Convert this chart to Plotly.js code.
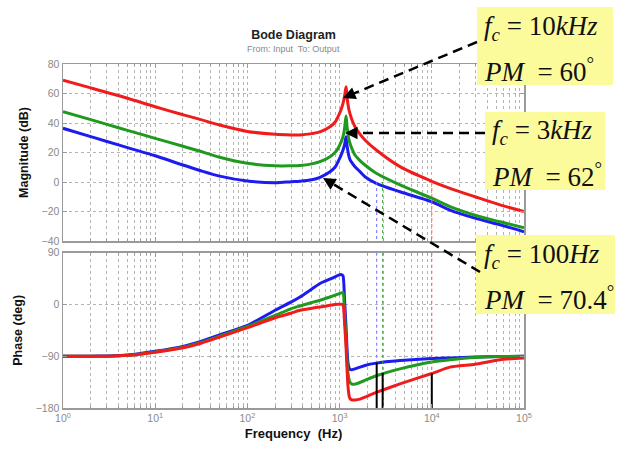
<!DOCTYPE html>
<html>
<head>
<meta charset="utf-8">
<script src="https://cdn.plot.ly/plotly-3.0.1.min.js"></script>
<style>
  html, body { margin: 0; padding: 0; background: #fff; }
  #chart { width: 630px; height: 457px; }
</style>
</head>
<body>
<div id="chart"></div>
<script>
// ---- data ----
const freq = [1, 2, 3, 5, 10, 20, 30, 50, 100, 200, 300, 372, 500, 613, 787, 891, 962, 1036, 1089, 1130, 1175, 1202, 1230, 1265, 1300, 1363, 1468, 1663, 1884, 2500, 4520, 10000, 15750, 29400, 55000, 100000];

const magRed   = [69, 63.8, 60.7, 56.8, 51, 45.6, 42.6, 38.6, 34.3, 32.3, 31.9, 31.9, 32.8, 34, 37.5, 40.5, 44.3, 49, 53.3, 58, 64.5, 58, 53, 48.8, 46, 42, 37.5, 32.5, 28.5, 21.7, 10.4, 0.5, -4.3, -10, -15.5, -20];
const magGreen = [47.7, 42.3, 39.1, 35, 29.6, 24.2, 21, 16.8, 12.7, 11, 11, 11.2, 12.3, 13.8, 17.2, 20, 22.8, 27, 30.7, 36, 44.7, 38, 33, 28.5, 26, 22.5, 18.3, 14.5, 11.5, 5.9, -2, -11, -16.7, -22.5, -27, -31];
const magBlue  = [36.4, 30.8, 27.5, 23.3, 17.8, 11.5, 8, 4, 0.7, -0.5, 0.2, 0.5, 1.5, 3.2, 7, 10, 13.8, 18, 21.7, 25, 30.7, 25, 21, 17.2, 15, 13, 10.4, 7, 3.6, -0.9, -6.6, -13.4, -19, -24.5, -29, -33.7];

const phRed    = [-90, -90, -90, -88.5, -83, -75.4, -68.4, -56.8, -40.4, -23, -14.9, -10.2, -6.5, -4.4, -1.5, -0.2, 0.3, 0.5, -0.5, -30, -75, -110, -140, -158, -164, -166, -166, -164.5, -161, -153, -138, -120, -109, -104, -96, -93];
const phGreen  = [-90, -90, -90, -88.5, -82.5, -74.5, -67, -55, -38, -19, -7.2, -2.6, 3.5, 7.3, 13, 16, 18, 20, 20.5, -15, -60, -95, -118, -130, -136, -138.5, -138.5, -135.5, -132, -124, -112, -100, -96, -92, -90.5, -90];
const phBlue   = [-90, -90, -89.5, -88, -81.5, -73, -65, -53, -36.4, -10, 4.4, 13, 27, 36.5, 44, 48, 50.5, 52.2, 50, 10, -40, -75, -100, -110, -113, -113.3, -112, -109, -106, -102, -97.6, -94, -93, -91.5, -90.5, -90];

// crossover markers: blue, green, red
const crossFreq  = [2525, 2930, 10000];
const crossPhase = [-101, -119, -120];
const crossColor = ['#6a6aff', '#3c9a3c', '#ff6060'];

const xTickVals = [1, 10, 100, 1000, 10000, 100000];
const xTickText = ['10<sup>0</sup>', '10<sup>1</sup>', '10<sup>2</sup>', '10<sup>3</sup>', '10<sup>4</sup>', '10<sup>5</sup>'];
const magTicks = [-40, -20, 0, 20, 40, 60, 80];
const phTicks = [-180, -90, 0, 90];

const boxLines = [
  ['<i>f</i><sub><i>c</i></sub> = 10<i>kHz</i>', '<i>PM</i>  = 60<sup>°</sup>'],
  ['<i>f</i><sub><i>c</i></sub> = 3<i>kHz</i>',  '<i>PM</i>  = 62<sup>°</sup>'],
  ['<i>f</i><sub><i>c</i></sub> = 100<i>Hz</i>', '<i>PM</i>  = 70.4<sup>°</sup>']
];

// ---- traces ----
const RED = '#f01c1c', GREEN = '#1f9a1f', BLUE = '#1c1cf0';
const traces = [];
[[magBlue, phBlue, BLUE], [magGreen, phGreen, GREEN], [magRed, phRed, RED]].forEach(([m, p, c]) => {
  traces.push({x: freq, y: m, xaxis: 'x', yaxis: 'y', mode: 'lines', line: {color: c, width: 3, shape: 'spline', smoothing: 0.9}, showlegend: false, hoverinfo: 'skip'});
  traces.push({x: freq, y: p, xaxis: 'x2', yaxis: 'y2', mode: 'lines', line: {color: c, width: 3, shape: 'spline', smoothing: 0.5}, showlegend: false, hoverinfo: 'skip'});
});
crossFreq.forEach((f, i) => {
  traces.push({x: [f, f], y: [0, magTicks[0]], xaxis: 'x', yaxis: 'y', mode: 'lines', line: {color: crossColor[i], width: 1, dash: 'dot'}, showlegend: false, hoverinfo: 'skip'});
  traces.push({x: [f, f], y: [phTicks[3], crossPhase[i]], xaxis: 'x2', yaxis: 'y2', mode: 'lines', line: {color: crossColor[i], width: 1, dash: 'dot'}, showlegend: false, hoverinfo: 'skip'});
  traces.push({x: [f, f], y: [crossPhase[i], phTicks[0]], xaxis: 'x2', yaxis: 'y2', mode: 'lines', line: {color: '#000', width: 2}, showlegend: false, hoverinfo: 'skip'});
});

// ---- layout helpers (pixel -> paper) ----
const L = 63, R = 106, T = 64, B = 49, W = 630, H = 457;
const pw = W - L - R, ph = H - T - B;
const px = v => (v - L) / pw;
const py = v => (H - B - v) / ph;

const gridCol = '#b4b4b4';
const tickFont = {family: 'Liberation Sans, Arial, sans-serif', size: 10.5, color: '#8a8a8a'};
const titleFont = {family: 'Liberation Sans, Arial, sans-serif', size: 12.5, color: '#111'};

function xAxis(extra) {
  return Object.assign({
    type: 'log', range: [0, 5], tickvals: xTickVals, ticktext: xTickText,
    showgrid: true, gridcolor: gridCol, griddash: 'dot', gridwidth: 1,
    minor: {dtick: 'D1', showgrid: true, gridcolor: gridCol, griddash: 'dot', gridwidth: 1, ticks: 'inside', ticklen: 2, tickcolor: '#999'},
    showline: true, linecolor: '#9a9a9a', linewidth: 1.5, mirror: 'ticks',
    ticks: 'inside', ticklen: 4, tickcolor: '#999',
    tickfont: tickFont, zeroline: false
  }, extra);
}
function yAxis(extra) {
  return Object.assign({
    showgrid: true, gridcolor: gridCol, griddash: 'dot', gridwidth: 1,
    showline: true, linecolor: '#9a9a9a', linewidth: 1.5, mirror: 'ticks',
    ticks: 'inside', ticklen: 4, tickcolor: '#999',
    tickfont: tickFont, zeroline: false
  }, extra);
}

const shapes = [];
const annotations = [];

// yellow boxes
const boxes = [
  [477, 613, 7, 85],
  [485, 605, 112, 190],
  [476, 615, 235, 314]
];
boxes.forEach(b => {
  shapes.push({type: 'rect', xref: 'paper', yref: 'paper', x0: px(b[0]), x1: px(b[1]), y0: py(b[3]), y1: py(b[2]),
    fillcolor: '#fbfb9c', line: {width: 0}, layer: 'above'});
});
// box texts
const textPos = [
  [482, 28, 70],
  [490, 132, 175],
  [482, 256, 298]
];
const serif = {family: 'Liberation Serif, Times New Roman, serif', size: 27, color: '#111'};
textPos.forEach((t, i) => {
  annotations.push({xref: 'paper', yref: 'paper', x: px(t[0]), y: py(t[1]), xanchor: 'left', yanchor: 'middle', text: boxLines[i][0], showarrow: false, font: serif});
  annotations.push({xref: 'paper', yref: 'paper', x: px(t[0]), y: py(t[2]), xanchor: 'left', yanchor: 'middle', text: boxLines[i][1], showarrow: false, font: serif});
});

// dashed arrows: [startX, startY, headX, headY]
const arrows = [
  [477, 42, 343, 98],
  [485, 133, 345, 133],
  [480, 272, 323, 178]
];
arrows.forEach(a => {
  const dx = a[0] - a[2], dy = a[1] - a[3];
  const len = Math.sqrt(dx * dx + dy * dy);
  const ux = dx / len, uy = dy / len;
  shapes.push({type: 'line', xref: 'paper', yref: 'paper', x0: px(a[0]), y0: py(a[1]), x1: px(a[2] + ux * 8), y1: py(a[3] + uy * 8),
    line: {color: '#000', width: 2.5, dash: '10px,6px'}, layer: 'above'});
  annotations.push({xref: 'paper', yref: 'paper', x: px(a[2]), y: py(a[3]), ax: ux * 12, ay: uy * 12, text: '', showarrow: true,
    arrowhead: 2, arrowsize: 1, arrowwidth: 2.5, arrowcolor: '#000', standoff: 0});
});

// subtitle
annotations.push({xref: 'paper', yref: 'paper', x: 0.5, y: py(49), xanchor: 'center', yanchor: 'middle', showarrow: false,
  text: 'From: Input  To: Output', font: {family: 'Liberation Sans, Arial, sans-serif', size: 9, color: '#8a8a8a'}});

const layout = {
  width: W, height: H,
  margin: {l: L, r: R, t: T, b: B},
  paper_bgcolor: '#fff', plot_bgcolor: '#fff',
  showlegend: false,
  title: {text: '<b>Bode Diagram</b>', x: 293.5 / W, xanchor: 'center', y: 1 - 35 / H, yanchor: 'middle',
    font: {family: 'Liberation Sans, Arial, sans-serif', size: 12.5, color: '#222'}},
  xaxis: xAxis({domain: [0, 1], anchor: 'y', showticklabels: false}),
  yaxis: yAxis({domain: [py(241), 1], anchor: 'x', range: [-40, 80], tickvals: magTicks,
    title: {text: '<b>Magnitude (dB)</b>', font: titleFont, standoff: 10}}),
  xaxis2: xAxis({domain: [0, 1], anchor: 'y2', matches: 'x',
    title: {text: '<b>Frequency  (Hz)</b>', font: {family: 'Liberation Sans, Arial, sans-serif', size: 13, color: '#111'}, standoff: 6}}),
  yaxis2: yAxis({domain: [0, py(252.7)], anchor: 'x2', range: [-180, 90], tickvals: phTicks,
    title: {text: '<b>Phase (deg)</b>', font: titleFont, standoff: 10}}),
  shapes: shapes,
  annotations: annotations
};

Plotly.newPlot('chart', traces, layout, {displayModeBar: false, staticPlot: true});
</script>
</body>
</html>
